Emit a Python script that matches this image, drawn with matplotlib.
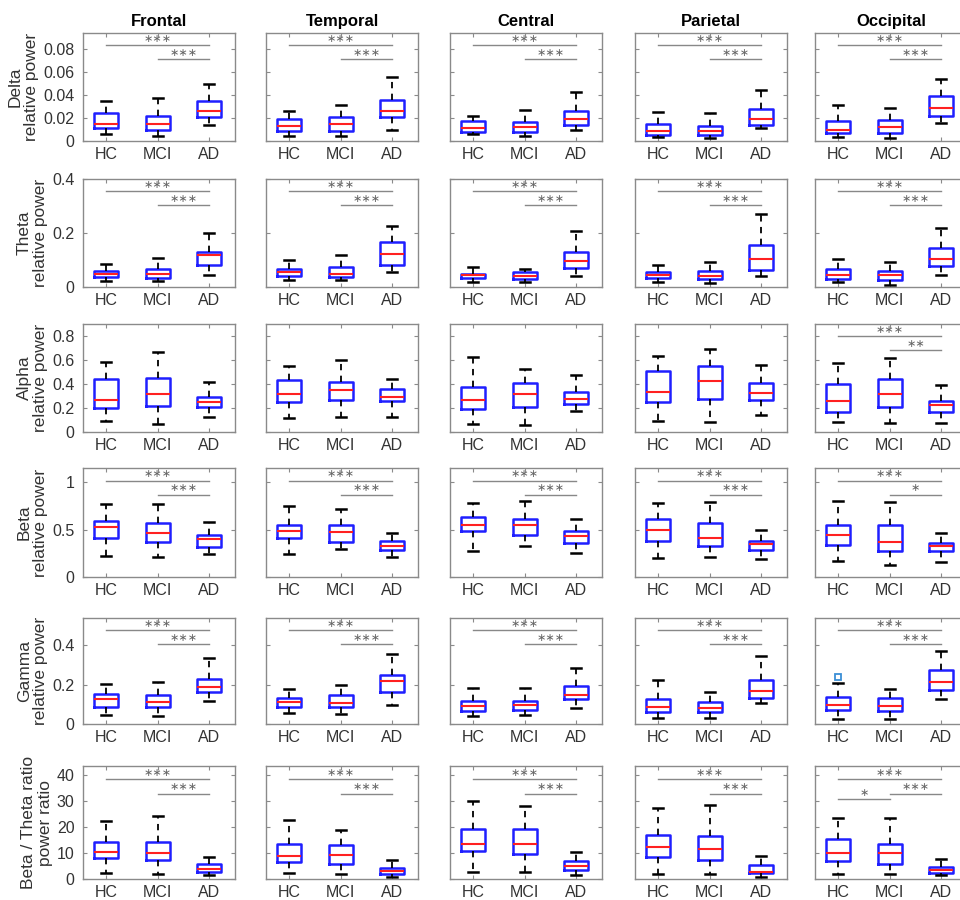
import matplotlib
matplotlib.use('Agg')
import matplotlib.pyplot as plt

plt.rcParams['font.family'] = ['Liberation Sans', 'DejaVu Sans']

groups = ['HC', 'MCI', 'AD']
regions = ['Frontal', 'Temporal', 'Central', 'Parietal', 'Occipital']
ylabels = ['Delta\nrelative power', 'Theta\nrelative power', 'Alpha\nrelative power',
           'Beta\nrelative power', 'Gamma\nrelative power', 'Beta / Theta ratio\npower ratio']

# (whisker low, q1, median, q3, whisker high) for HC, MCI, AD in each region
delta = [
    [(0.0058, 0.011, 0.015, 0.024, 0.035), (0.0043, 0.010, 0.015, 0.0217, 0.037), (0.0139, 0.0208, 0.0257, 0.035, 0.050)],
    [(0.0046, 0.0087, 0.0127, 0.019, 0.0265), (0.004, 0.0087, 0.015, 0.021, 0.0315), (0.0095, 0.0208, 0.026, 0.036, 0.056)],
    [(0.0058, 0.008, 0.0115, 0.017, 0.022), (0.0043, 0.0078, 0.0118, 0.0167, 0.0274), (0.0095, 0.014, 0.019, 0.026, 0.043)],
    [(0.0035, 0.0055, 0.0087, 0.0147, 0.025), (0.0026, 0.0055, 0.009, 0.013, 0.024), (0.011, 0.014, 0.019, 0.028, 0.044)],
    [(0.0035, 0.0072, 0.010, 0.0173, 0.031), (0.0026, 0.007, 0.012, 0.0185, 0.029), (0.0153, 0.0216, 0.0286, 0.039, 0.054)],
]
theta = [
    [(0.021, 0.0375, 0.05, 0.06, 0.084), (0.024, 0.034, 0.05, 0.066, 0.106), (0.045, 0.08, 0.1175, 0.13, 0.20)],
    [(0.026, 0.04, 0.056, 0.0675, 0.10), (0.026, 0.036, 0.05, 0.074, 0.119), (0.054, 0.0825, 0.1225, 0.165, 0.2275)],
    [(0.017, 0.033, 0.043, 0.05, 0.074), (0.019, 0.031, 0.041, 0.055, 0.066), (0.040, 0.070, 0.098, 0.128, 0.207)],
    [(0.019, 0.032, 0.045, 0.056, 0.083), (0.014, 0.028, 0.041, 0.058, 0.093), (0.041, 0.064, 0.104, 0.156, 0.272)],
    [(0.017, 0.031, 0.046, 0.065, 0.104), (0.009, 0.027, 0.045, 0.059, 0.093), (0.045, 0.078, 0.105, 0.146, 0.22)],
]
alpha = [
    [(0.09, 0.20, 0.266, 0.444, 0.582), (0.07, 0.218, 0.32, 0.45, 0.667), (0.127, 0.206, 0.249, 0.288, 0.418)],
    [(0.116, 0.25, 0.32, 0.43, 0.55), (0.124, 0.263, 0.348, 0.415, 0.60), (0.127, 0.257, 0.294, 0.356, 0.444)],
    [(0.065, 0.192, 0.263, 0.376, 0.622), (0.061, 0.208, 0.313, 0.407, 0.526), (0.175, 0.235, 0.277, 0.335, 0.476)],
    [(0.094, 0.247, 0.332, 0.507, 0.634), (0.083, 0.277, 0.429, 0.554, 0.693), (0.139, 0.269, 0.327, 0.405, 0.558)],
    [(0.082, 0.17, 0.261, 0.397, 0.578), (0.076, 0.212, 0.32, 0.442, 0.618), (0.076, 0.167, 0.221, 0.261, 0.391)],
]
beta = [
    [(0.218, 0.414, 0.53, 0.586, 0.765), (0.214, 0.372, 0.467, 0.568, 0.772), (0.242, 0.319, 0.40, 0.446, 0.582)],
    [(0.246, 0.407, 0.484, 0.55, 0.747), (0.298, 0.372, 0.47, 0.544, 0.716), (0.21, 0.284, 0.33, 0.379, 0.46)],
    [(0.27, 0.484, 0.547, 0.63, 0.78), (0.33, 0.441, 0.545, 0.616, 0.806), (0.25, 0.355, 0.434, 0.484, 0.613)],
    [(0.20, 0.382, 0.491, 0.607, 0.779), (0.207, 0.326, 0.411, 0.568, 0.796), (0.19, 0.284, 0.347, 0.382, 0.491)],
    [(0.174, 0.337, 0.44, 0.55, 0.80), (0.124, 0.27, 0.369, 0.55, 0.794), (0.163, 0.27, 0.326, 0.355, 0.461)],
]
gamma = [
    [(0.047, 0.087, 0.127, 0.155, 0.203), (0.042, 0.087, 0.111, 0.15, 0.216), (0.115, 0.163, 0.19, 0.231, 0.334)],
    [(0.055, 0.088, 0.111, 0.132, 0.18), (0.051, 0.086, 0.109, 0.146, 0.197), (0.099, 0.162, 0.22, 0.252, 0.359)],
    [(0.042, 0.064, 0.094, 0.118, 0.183), (0.045, 0.071, 0.098, 0.117, 0.181), (0.084, 0.127, 0.15, 0.194, 0.284)],
    [(0.033, 0.061, 0.087, 0.128, 0.222), (0.031, 0.059, 0.084, 0.112, 0.164), (0.105, 0.135, 0.168, 0.225, 0.348)],
    [(0.023, 0.073, 0.098, 0.14, 0.21), (0.023, 0.065, 0.094, 0.135, 0.177), (0.129, 0.171, 0.212, 0.276, 0.372)],
]
ratio = [
    [(2.4, 8.05, 10.2, 14.2, 22.3), (2.0, 7.4, 10.1, 14.3, 24.0), (1.5, 2.5, 4.0, 5.8, 8.4)],
    [(2.4, 6.4, 8.9, 13.3, 22.6), (2.1, 5.9, 9.1, 13.1, 18.6), (0.8, 1.9, 2.9, 4.2, 7.2)],
    [(2.6, 10.7, 13.5, 19.1, 29.8), (2.7, 9.7, 13.3, 19.2, 28.1), (1.6, 3.4, 5.1, 6.8, 10.5)],
    [(1.9, 8.6, 12.2, 16.7, 27.2), (1.9, 7.3, 11.4, 16.6, 28.2), (0.9, 2.3, 2.7, 5.4, 8.9)],
    [(1.9, 6.8, 10.0, 15.3, 23.5), (1.9, 5.7, 10.0, 13.4, 23.5), (1.4, 2.4, 3.5, 4.7, 7.6)],
]
# outliers: (band index, region index, group index, value)
outliers = [(4, 4, 0, 0.24)]

all_bands = [delta, theta, alpha, beta, gamma, ratio]
ymax = [0.094, 0.4, 0.9, 1.15, 0.54, 43.3]
yticks = [[0, 0.02, 0.04, 0.06, 0.08], [0, 0.2, 0.4], [0, 0.2, 0.4, 0.6, 0.8],
          [0, 0.5, 1], [0, 0.2, 0.4], [0, 10, 20, 30, 40]]
yticklabels = [['0', '0.02', '0.04', '0.06', '0.08'], ['0', '0.2', '0.4'],
               ['0', '0.2', '0.4', '0.6', '0.8'], ['0', '0.5', '1'], ['0', '0.2', '0.4'],
               ['0', '10', '20', '30', '40']]

# significance: (group a, group b, number of stars, height as axes fraction)
std_sig = [(0, 2, 3, 0.885), (1, 2, 3, 0.755)]
sig = [
    [std_sig] * 5,
    [std_sig] * 5,
    [[], [], [], [], [(0, 2, 3, 0.885), (1, 2, 2, 0.755)]],
    [std_sig] * 4 + [[(0, 2, 3, 0.885), (1, 2, 1, 0.755)]],
    [std_sig] * 5,
    [std_sig] * 4 + [[(0, 2, 3, 0.885), (1, 2, 3, 0.755), (0, 1, 1, 0.705)]],
]

fig = plt.figure(figsize=(9.6, 9.0), dpi=100)
W, H = 960.0, 900.0
col_left = [83, 266, 450, 635, 815]
col_w = 152
row_top = [33, 179, 324, 468, 618, 766]
row_bot = [141, 287, 432, 577, 724, 879]

frame_col = '#8a8a8a'
txt_col = '#333333'

for r in range(6):
    for c in range(5):
        ax = fig.add_axes([col_left[c] / W, 1 - row_bot[r] / H, col_w / W,
                           (row_bot[r] - row_top[r]) / H])
        stats = []
        for g in range(3):
            lo, q1, med, q3, hi = all_bands[r][c][g]
            fl = [o[3] for o in outliers if o[0] == r and o[1] == c and o[2] == g]
            stats.append(dict(whislo=lo, q1=q1, med=med, q3=q3, whishi=hi, fliers=fl))
        ax.bxp(stats, positions=[1, 2, 3], widths=0.46, capwidths=0.2,
               boxprops=dict(color='#1f1fff', linewidth=1.8),
               medianprops=dict(color='#ff2020', linewidth=1.5),
               whiskerprops=dict(color='k', linewidth=1.3, linestyle=(0, (3.5, 3))),
               capprops=dict(color='k', linewidth=1.8),
               flierprops=dict(marker='s', markersize=4, markerfacecolor='none',
                               markeredgecolor='#3a8fd6', markeredgewidth=1.3))
        ax.set_xlim(0.55, 3.5)
        ax.set_ylim(0, ymax[r])
        ax.set_xticks([1, 2, 3])
        ax.set_xticklabels(groups)
        ax.set_yticks(yticks[r])
        if c == 0:
            ax.set_yticklabels(yticklabels[r])
            ax.set_ylabel(ylabels[r], fontsize=12.5, color=txt_col, labelpad=3,
                          linespacing=1.1)
        else:
            ax.set_yticklabels([])
        ax.tick_params(direction='in', top=True, right=True, length=3, width=0.8,
                       colors=frame_col, labelcolor=txt_col, labelsize=11.5)
        ax.tick_params(axis='x', pad=4)
        ax.tick_params(axis='y', pad=6)
        for sp in ax.spines.values():
            sp.set_color(frame_col)
            sp.set_linewidth(1.0)
        if r == 0:
            ax.set_title(regions[c], fontsize=12, fontweight='bold', pad=5)
        for a, b, n, yf in sig[r][c]:
            y = yf * ymax[r]
            ax.plot([a + 1, b + 1], [y, y], color='#888888', linewidth=1.0)
            ax.annotate('\u2217' * n, xy=((a + b) / 2 + 1, y), xytext=(0, 4.5),
                        textcoords='offset points', ha='center', va='center',
                        fontsize=8, color='#666666', family='DejaVu Sans')

fig.savefig('out.png', dpi=100)
